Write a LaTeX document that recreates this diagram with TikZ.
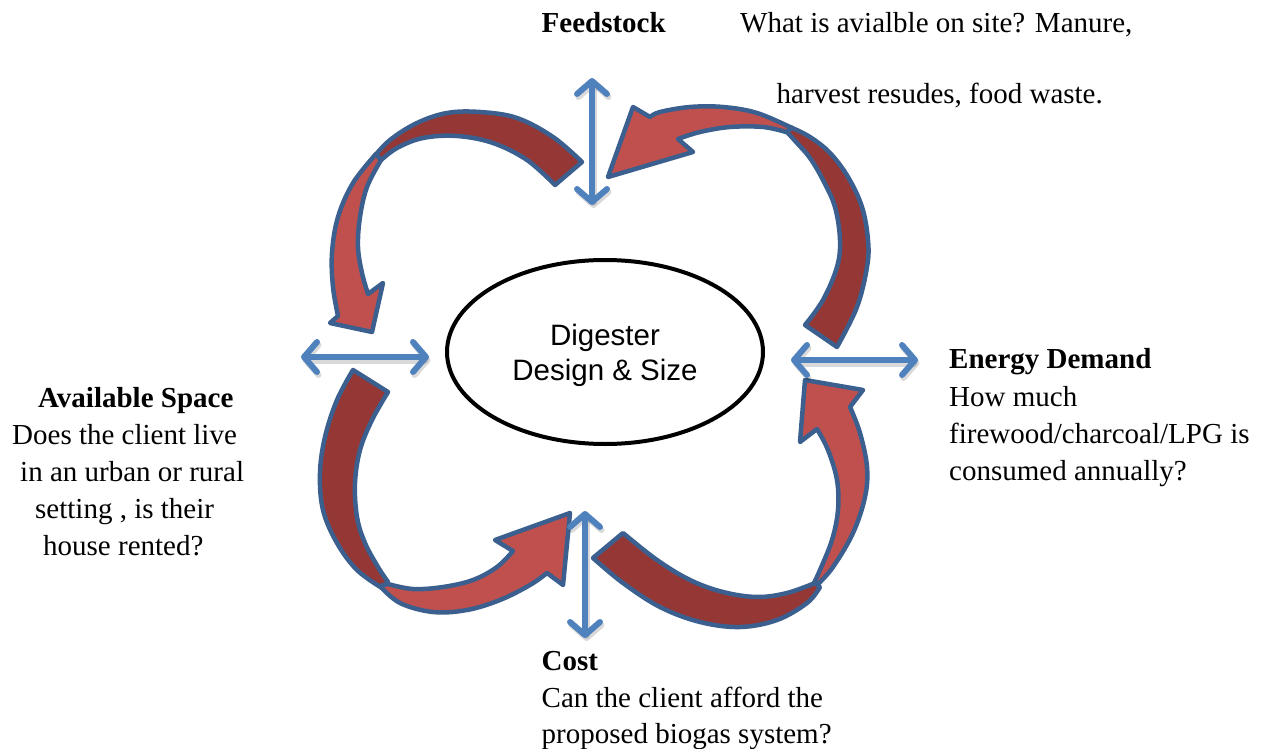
\documentclass[tikz,border=0pt]{standalone}
\usepackage{fontspec}
\setmainfont{Liberation Serif}
\setsansfont{Liberation Sans}
\usetikzlibrary{arrows.meta,shapes.geometric}

\definecolor{arrowblue}{HTML}{4F81BD}
\definecolor{rimblue}{HTML}{3B5F8E}
\definecolor{bandlight}{HTML}{C0504D}
\definecolor{banddark}{HTML}{953735}

\begin{document}
\begin{tikzpicture}[x=1pt,y=-1pt,
  band/.style={draw=rimblue, line width=4.5pt, line join=round},
  backband/.style={band, fill=banddark},
  frontband/.style={band, fill=bandlight},
  barb/.tip={Straight Barb[length=13pt,width=30pt,line width=6pt,round]},
  twoway/.style={draw=arrowblue, line width=6pt, line cap=round, barb-barb},
  twowayshade/.style={draw=black, opacity=0.15, line width=7.5pt, line cap=round, barb-barb,
    transform canvas={shift={(1.5,3)}}},
  note/.style={anchor=base west, inner sep=0pt, font=\fontsize{29}{37}\selectfont},
  head/.style={note, font=\fontsize{29}{37}\selectfont\bfseries},
  core/.style={ellipse, draw=black, line width=4pt, minimum width=316pt, minimum height=184pt,
    inner sep=0pt, align=center, text depth=0pt, font=\sffamily\fontsize{29.5}{35}\selectfont}]
\useasboundingbox (0,0) rectangle (1262,749);

% ---- curved flow arrows: dark back half, light front half with head ----
% top left
\draw[backband] plot[smooth,tension=0.6] coordinates {(582,162) (553,137) (517,118) (480,112) (447,113) (417,123) (390,140) (373,158)}
  -- plot[smooth,tension=0.6] coordinates {(380,161) (397,148) (423,138) (457,136) (493,143) (527,160) (555,185)} -- cycle;
\draw[frontband] plot[smooth,tension=0.6] coordinates {(376,154) (353,183) (338,217) (332,253) (333,287) (338,316)}
  -- (330,323) -- (372,332) -- (383,283) -- (368,294)
  -- plot[smooth,tension=0.6] coordinates {(368,294) (362,273) (358,247) (360,217) (367,187) (381,160)} -- cycle;

% top right
\draw[backband] plot[smooth,tension=0.6] coordinates {(837,347) (857,307) (867,267) (868,240) (862,207) (848,177) (830,153) (810,137) (790,127)}
  -- plot[smooth,tension=0.6] coordinates {(787,132) (797,143) (810,158) (823,180) (835,207) (840,240) (837,267) (823,300) (805,325)} -- cycle;
\draw[frontband] plot[smooth,tension=0.6] coordinates {(792,128) (757,113) (723,107) (690,107) (660,112) (650,117)}
  -- (633,107) -- (608,177) -- (693,152) -- (678,139)
  -- plot[smooth,tension=0.6] coordinates {(678,139) (700,132) (730,127) (763,127) (786,132)} -- cycle;

% bottom left
\draw[backband] plot[smooth,tension=0.6] coordinates {(353,370) (337,400) (325,437) (320,473) (323,510) (337,543) (357,570) (382,588)}
  -- plot[smooth,tension=0.6] coordinates {(388,582) (378,567) (365,543) (357,517) (355,483) (360,450) (372,420) (388,392)} -- cycle;
\draw[frontband] plot[smooth,tension=0.6] coordinates {(380,586) (400,603) (433,612) (467,610) (500,600) (530,585) (547,573)}
  -- (563,585) -- (570,513) -- (495,540) -- (513,551)
  -- plot[smooth,tension=0.6] coordinates {(513,551) (497,567) (473,580) (443,587) (413,589) (388,584)} -- cycle;

% bottom right
\draw[backband] plot[smooth,tension=0.6] coordinates {(593,558) (623,583) (660,607) (700,622) (740,627) (777,620) (807,603) (820,587)}
  -- plot[smooth,tension=0.6] coordinates {(815,583) (787,593) (757,597) (723,592) (690,580) (657,560) (623,533)} -- cycle;
\draw[frontband] plot[smooth,tension=0.6] coordinates {(818,584) (833,567) (853,533) (865,497) (867,467) (860,433) (850,407)}
  -- (863,390) -- (805,380) -- (800,442) -- (817,429)
  -- plot[smooth,tension=0.6] coordinates {(817,429) (828,450) (837,480) (838,510) (832,540) (820,570) (814,583)} -- cycle;

% ---- two-way links ----
\coordinate (feedA) at (592,78);   \coordinate (feedB) at (592,205);
\coordinate (spaceA) at (301,357); \coordinate (spaceB) at (429,357);
\coordinate (energyA) at (791,360); \coordinate (energyB) at (918,360);
\coordinate (costA) at (585,511);  \coordinate (costB) at (585,638);

\foreach \a/\b in {feedA/feedB, spaceA/spaceB, energyA/energyB, costA/costB}{
  \draw[twowayshade] (\a) -- (\b);
  \draw[twoway] (\a) -- (\b);
}

% ---- centre ----
\node[core] (digester) at (605,352) {Digester\\Design \& Size};

% ---- factor labels ----
\node[head] (feedT) at (541.5,33) {Feedstock};
\node[note] (feed1) at (740,33) {What is avialble on site? Manure,};
\node[note] (feed2) at (776.5,104) {harvest resudes, food waste.};

\node[head] (spaceT) at (38,407) {Available Space};
\node[note] (space1) at (12,444) {Does the client live};
\node[note] (space2) at (20,481) {in an urban or rural};
\node[note] (space3) at (35,518) {setting , is their};
\node[note] (space4) at (43,555) {house rented?};

\node[head] (energyT) at (949,368.5) {Energy Demand};
\node[note] (energy1) at (949,406) {How much};
\node[note] (energy2) at (949,443) {firewood/charcoal/LPG is};
\node[note] (energy3) at (949,480) {consumed annually?};

\node[head] (costT) at (541.5,670) {Cost};
\node[note] (cost1) at (541.5,707) {Can the client afford the};
\node[note] (cost2) at (541.5,743) {proposed biogas system?};
\end{tikzpicture}
\end{document}
